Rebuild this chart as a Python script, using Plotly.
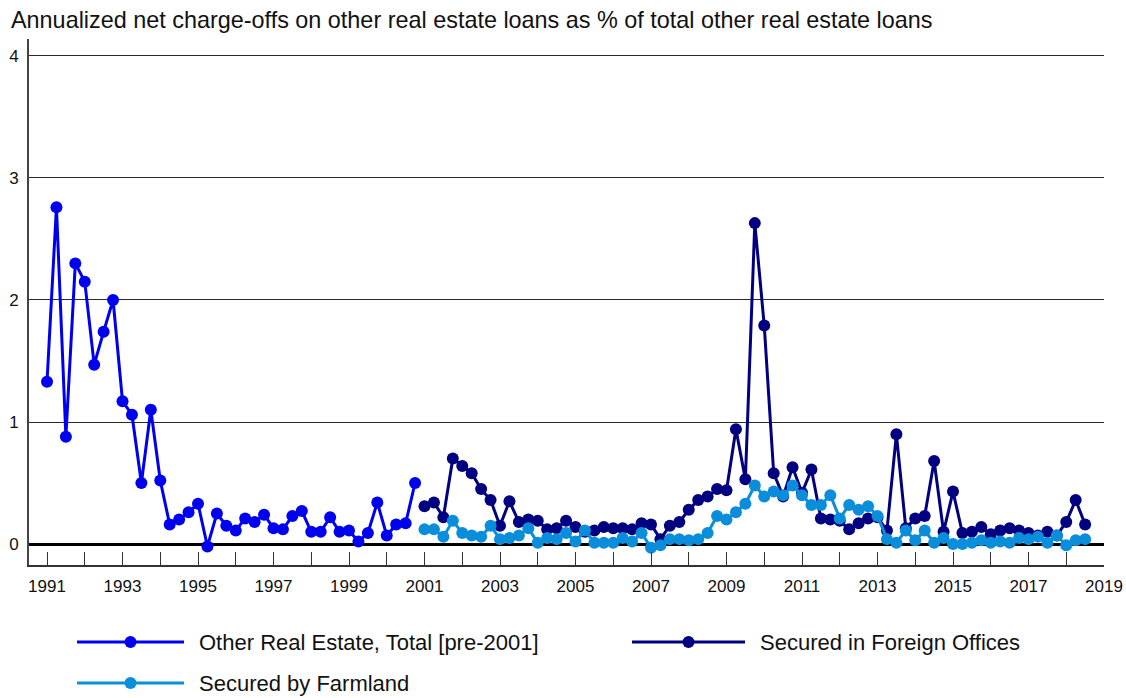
import plotly.graph_objects as go

# ---- data (quarterly, % annualized) ----
pre2001_start = 1991
pre2001_values = [
    1.33, 2.76, 0.88, 2.30,
    2.15, 1.47, 1.74, 2.00,
    1.17, 1.06, 0.50, 1.10,
    0.52, 0.16, 0.20, 0.26,
    0.33, -0.02, 0.25, 0.15,
    0.11, 0.21, 0.18, 0.24,
    0.13, 0.12, 0.23, 0.27,
    0.10, 0.10, 0.22, 0.10,
    0.11, 0.02, 0.09, 0.34,
    0.07, 0.16, 0.17, 0.50,
]

post2001_start = 2001
foreign_values = [
    0.31, 0.34, 0.22, 0.70,
    0.64, 0.58, 0.45, 0.36,
    0.15, 0.35, 0.18, 0.20,
    0.19, 0.12, 0.13, 0.19,
    0.14, 0.10, 0.11, 0.14,
    0.13, 0.13, 0.12, 0.17,
    0.16, 0.04, 0.15, 0.18,
    0.28, 0.36, 0.39, 0.45,
    0.44, 0.94, 0.53, 2.63,
    1.79, 0.58, 0.39, 0.63,
    0.42, 0.61, 0.21, 0.20,
    0.19, 0.12, 0.17, 0.21,
    0.22, 0.11, 0.90, 0.13,
    0.21, 0.23, 0.68, 0.10,
    0.43, 0.09, 0.10, 0.14,
    0.08, 0.11, 0.13, 0.11,
    0.09, 0.07, 0.10, 0.07,
    0.18, 0.36, 0.16,
]
farmland_values = [
    0.12, 0.12, 0.06, 0.19,
    0.09, 0.07, 0.06, 0.15,
    0.04, 0.05, 0.07, 0.13,
    0.01, 0.05, 0.04, 0.09,
    0.02, 0.11, 0.01, 0.01,
    0.01, 0.05, 0.02, 0.09,
    -0.03, -0.01, 0.04, 0.04,
    0.03, 0.04, 0.09, 0.23,
    0.20, 0.26, 0.33, 0.48,
    0.39, 0.43, 0.40, 0.48,
    0.40, 0.32, 0.32, 0.40,
    0.21, 0.32, 0.28, 0.31,
    0.23, 0.04, 0.01, 0.11,
    0.03, 0.11, 0.01, 0.05,
    0.00, 0.00, 0.01, 0.03,
    0.01, 0.02, 0.01, 0.05,
    0.04, 0.06, 0.01, 0.07,
    -0.01, 0.03, 0.04,
]

series_names = [
    "Other Real Estate, Total [pre-2001]",
    "Secured in Foreign Offices",
    "Secured by Farmland",
]
series_colors = ["#0000F0", "#000080", "#0A8EDC"]

title_text = "Annualized net charge-offs on other real estate loans as % of total other real estate loans"
year_ticks = list(range(1991, 2020))
year_labels = [str(y) if (y - 1991) % 2 == 0 else "" for y in year_ticks]
y_ticks = [0, 1, 2, 3, 4]


def quarters(start, n):
    return [start + i * 0.25 for i in range(n)]


FONT = "Arial, 'Liberation Sans', Helvetica, sans-serif"

fig = go.Figure()
for name, color, start, vals in [
    (series_names[0], series_colors[0], pre2001_start, pre2001_values),
    (series_names[1], series_colors[1], post2001_start, foreign_values),
    (series_names[2], series_colors[2], post2001_start, farmland_values),
]:
    fig.add_trace(go.Scatter(
        x=quarters(start, len(vals)), y=vals, name=name,
        mode="lines+markers",
        line=dict(color=color, width=3),
        marker=dict(color=color, size=12),
        showlegend=False,
    ))

W, H = 1126, 698
ML, MR, MT, MB = 29, 22, 39, 133
PW, PH = W - ML - MR, H - MT - MB


def px_x(x):
    return (x - ML) / PW


def px_y(y):
    return (H - MB - y) / PH


# custom legend (long line samples as in the reference)
legend_items = [
    (series_names[0], series_colors[0], 77, 184, 642),
    (series_names[1], series_colors[1], 632, 745, 642),
    (series_names[2], series_colors[2], 77, 184, 683),
]
shapes = []
annotations = []
for name, color, xa, xb, yy in legend_items:
    shapes.append(dict(type="line", xref="paper", yref="paper",
                       x0=px_x(xa), x1=px_x(xb), y0=px_y(yy), y1=px_y(yy),
                       line=dict(color=color, width=3)))
    xm = (xa + xb) / 2
    shapes.append(dict(type="circle", xref="paper", yref="paper",
                       xsizemode="pixel", ysizemode="pixel",
                       xanchor=px_x(xm), yanchor=px_y(yy),
                       x0=-6, x1=6, y0=-6, y1=6,
                       fillcolor=color, line=dict(color=color, width=0)))
    annotations.append(dict(text=name, xref="paper", yref="paper",
                            x=px_x(xb + 13), y=px_y(yy), xanchor="left", yanchor="middle",
                            showarrow=False, font=dict(family=FONT, size=22, color="#111")))

fig.update_layout(
    template="none",
    width=W, height=H,
    margin=dict(l=ML, r=MR, t=MT, b=MB, pad=0, autoexpand=False),
    paper_bgcolor="white", plot_bgcolor="white",
    font=dict(family=FONT, color="#111"),
    hovermode=False,
    title=dict(text=title_text, xref="container", yref="container",
               x=11 / W, xanchor="left", y=1 - 20 / H, yanchor="middle",
               automargin=False,
               font=dict(family=FONT, size=23.4, color="#111")),
    shapes=shapes,
    annotations=annotations,
    xaxis=dict(
        automargin=False,
        range=[1990.523, 2019.0],
        tickmode="array", tickvals=year_ticks, ticktext=year_labels,
        ticks="inside", ticklen=13, tickcolor="#333", tickwidth=1,
        showline=True, linecolor="#333", linewidth=2,
        showgrid=False, zeroline=False,
        tickfont=dict(size=17, color="#111"),
        ticklabelstandoff=5,
    ),
    yaxis=dict(
        automargin=False,
        range=[-0.172, 4.139],
        tickmode="array", tickvals=y_ticks,
        ticks="", showline=True, linecolor="#444", linewidth=2,
        showgrid=True, gridcolor="#2a2a2a", gridwidth=1,
        zeroline=True, zerolinecolor="#000", zerolinewidth=3,
        tickfont=dict(size=17, color="#111"),
        ticklabelstandoff=5,
    ),
)

fig.write_html(
    "out.html",
    config={"displayModeBar": False, "staticPlot": True},
    post_script="document.body.style.margin='0';document.body.style.padding='0';document.body.style.overflow='hidden';",
)
